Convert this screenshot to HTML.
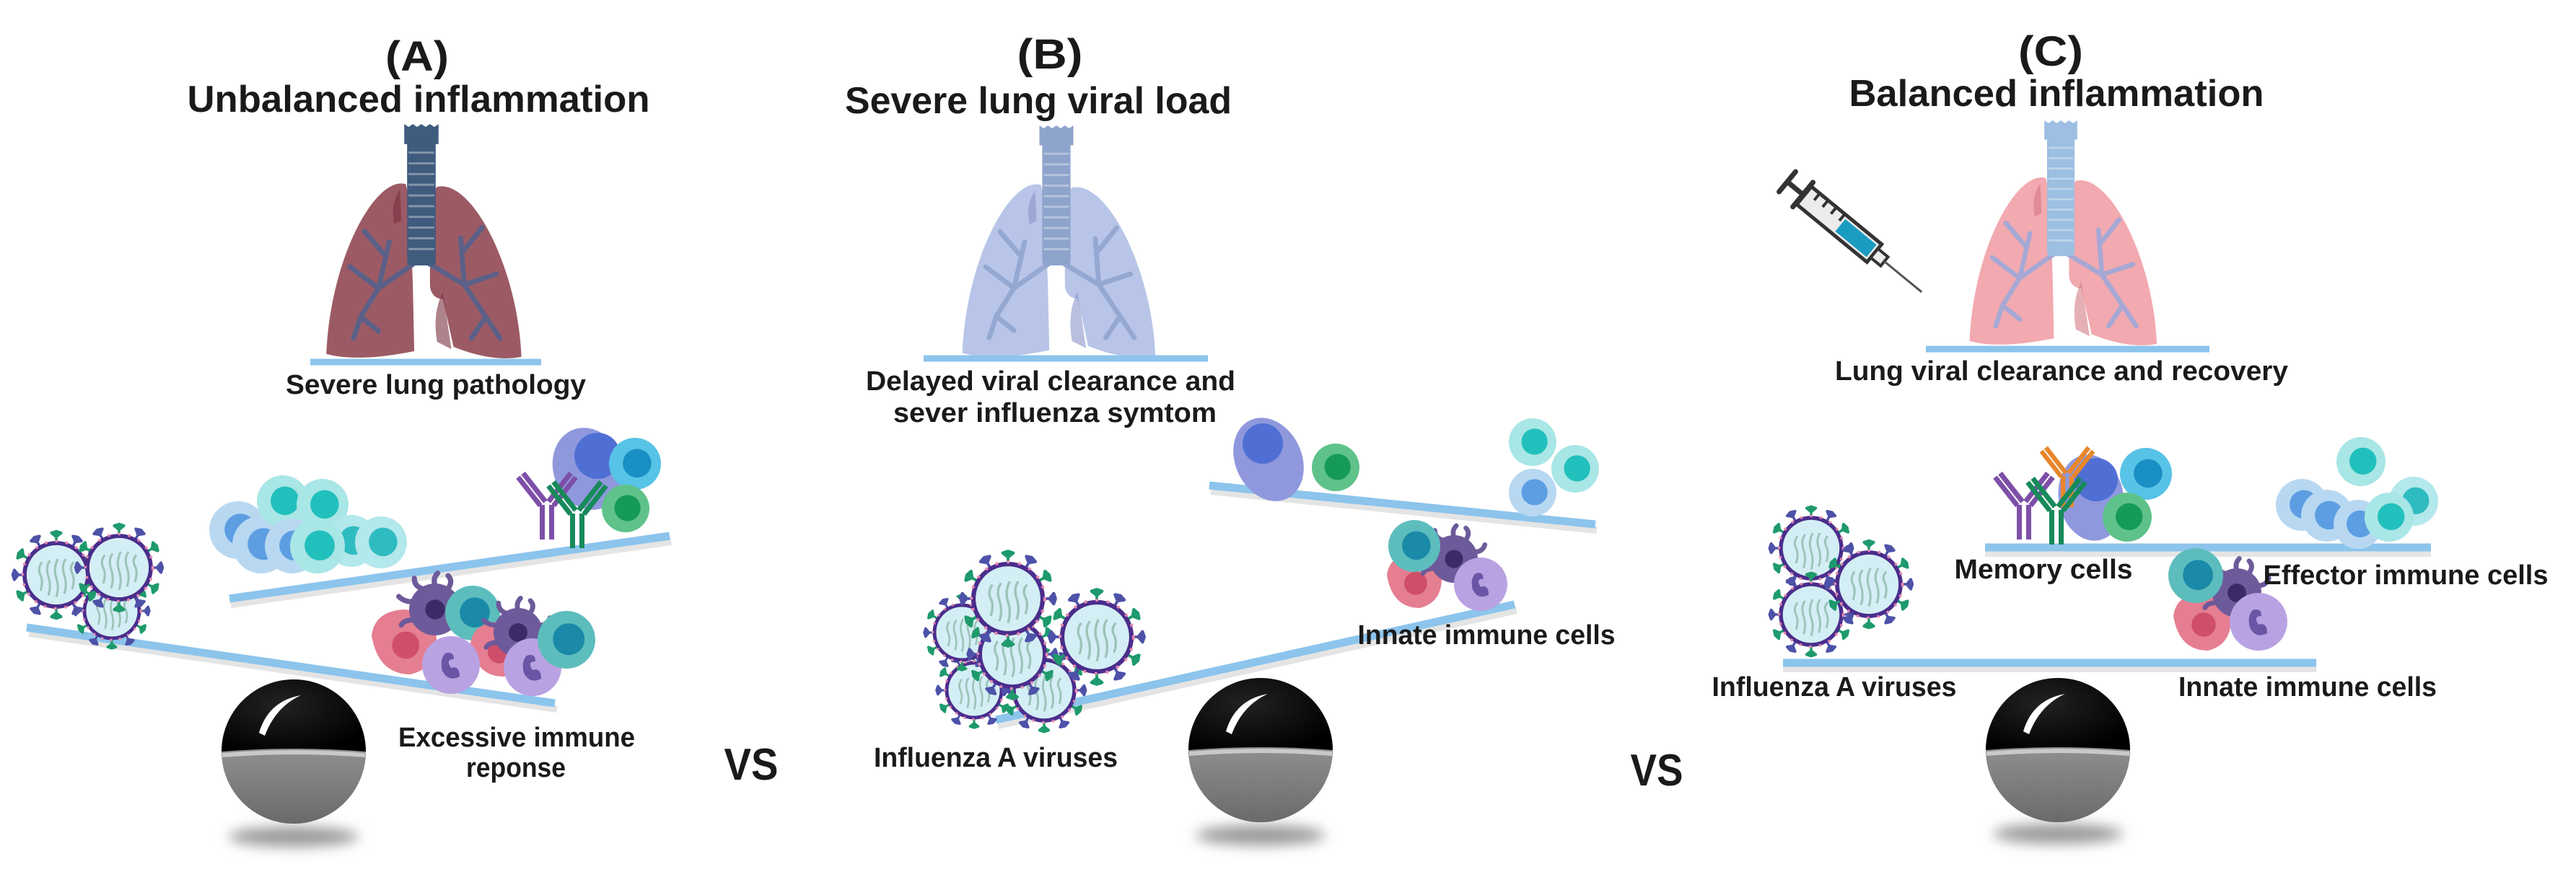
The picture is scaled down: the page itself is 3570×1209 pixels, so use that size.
<!DOCTYPE html>
<html><head><meta charset="utf-8"><style>
html,body{margin:0;padding:0;background:#fff}
svg{display:block}
text{font-family:"Liberation Sans",sans-serif;font-weight:bold;fill:#1a1a1a}
</style></head><body>
<svg width="3570" height="1209" viewBox="0 0 3570 1209" xmlns="http://www.w3.org/2000/svg">
<defs>
<filter id="bl" x="-50%" y="-200%" width="200%" height="500%"><feGaussianBlur stdDeviation="9"/></filter>
<linearGradient id="gb" x1="0" y1="0" x2="0" y2="1">
<stop offset="0" stop-color="#b5b5b5"/><stop offset="0.5" stop-color="#8e8e8e"/><stop offset="1" stop-color="#6a6a6a"/></linearGradient>
<radialGradient id="gt" cx="0.4" cy="0.35" r="0.7"><stop offset="0" stop-color="#222"/><stop offset="1" stop-color="#000"/></radialGradient>
<g id="ball">
<circle r="100" fill="url(#gb)"/>
<path d="M-100 0 A100 100 0 0 1 100 0 Q0 -8 -100 0Z" fill="url(#gt)"/>
<path d="M-99 2 Q0 -6 99 2 L99 8 Q0 0 -99 8Z" fill="#c9c9c9"/>
<path d="M-48 -26 Q-35 -70 10 -78 Q-25 -62 -40 -22Z" fill="#fff"/>
</g>
<g id="cell"><circle r="1" fill="var(--o)"/><circle cx="0.08" cy="-0.02" r="0.55" fill="var(--n)"/></g>
<g id="spk"><line x1="0" y1="-1" x2="0" y2="-1.22" stroke="var(--k)" stroke-width="0.08"/><path d="M0 -1.2 l-0.15 -0.12 l0.15 -0.05 l0.15 0.05z" fill="var(--k)" stroke="var(--k)" stroke-width="0.09" stroke-linejoin="round"/></g>
<g id="vir">
<g style="--k:#1e9a6c"><use href="#spk"/><use href="#spk" transform="rotate(60)"/><use href="#spk" transform="rotate(120)"/><use href="#spk" transform="rotate(180)"/><use href="#spk" transform="rotate(240)"/><use href="#spk" transform="rotate(300)"/></g>
<g style="--k:#4d52a8"><use href="#spk" transform="rotate(30)"/><use href="#spk" transform="rotate(90)"/><use href="#spk" transform="rotate(150)"/><use href="#spk" transform="rotate(210)"/><use href="#spk" transform="rotate(270)"/><use href="#spk" transform="rotate(330)"/></g>
<circle r="1" fill="#d4eef5" stroke="#4a2d8c" stroke-width="0.13"/>
<circle r="1.06" fill="none" stroke="#e68ab0" stroke-width="0.08" stroke-dasharray="0.08 0.25"/>
<g fill="none" stroke="#9cc4b8" stroke-width="0.07">
<path d="M-0.5 0.5 q0.1 -0.3 0 -0.5 t0.05 -0.4"/><path d="M-0.25 0.65 q0.1 -0.3 0 -0.6 t0.05 -0.5"/><path d="M0 0.7 q0.1 -0.3 0 -0.6 t0.05 -0.6"/><path d="M0.25 0.6 q0.1 -0.3 0 -0.6 t0.05 -0.5"/><path d="M0.5 0.45 q0.1 -0.3 0 -0.5 t0.05 -0.35"/></g>
</g>
<g id="dend">
<g stroke="var(--d)" stroke-width="0.2" stroke-linecap="round" fill="none">
<path d="M0 -0.9 q-0.1 -0.3 0.1 -0.5"/><path d="M0.5 -0.8 q0.2 -0.3 0 -0.5"/><path d="M-0.5 -0.8 q-0.3 -0.1 -0.3 -0.4"/><path d="M0.9 -0.3 q0.3 0 0.4 -0.3"/><path d="M-0.9 -0.3 q-0.3 0 -0.5 -0.2"/><path d="M-0.8 0.4 q-0.4 0 -0.5 0.2"/><path d="M0.8 0.4 q0.3 0.1 0.4 0.4"/></g>
<circle r="1" fill="var(--d)"/><circle r="0.38" fill="#3b2a66"/></g>
<g id="lilac"><circle r="1" fill="#b9a2e2"/><path d="M-0.2 -0.4 q0.3 -0.1 0.3 0.2 q-0.3 0 -0.1 0.3 q0.3 -0.1 0.3 0.3 q-0.4 0.2 -0.6 -0.2 q-0.1 -0.4 0.1 -0.6z" fill="#6a55a6"/></g>
<g id="pink"><path d="M-1 -0.2 Q-0.9 -0.95 0 -1 Q0.9 -0.9 1 -0.1 Q1 0.8 0.2 1 Q-0.8 1 -1 -0.2Z" fill="#e57e91"/><circle cx="0.05" cy="0.1" r="0.42" fill="#cf4f6a"/></g>
<g id="ab"><g fill="var(--a)">
<rect x="-10" y="0" width="7" height="48"/><rect x="3" y="0" width="7" height="48"/>
<g transform="rotate(-38 -4 2)"><rect x="-11" y="-52" width="7" height="50"/><rect x="-2" y="-52" width="7" height="50"/></g>
<g transform="rotate(38 4 2)"><rect x="-5" y="-52" width="7" height="50"/><rect x="4" y="-52" width="7" height="50"/></g></g></g>
<g id="lung">
<path d="M-22 84 C-65 72 -128 190 -133 322 Q-90 334 -10 318 L-12 225 C-14 170 -14 110 -22 84Z" fill="var(--l)"/>
<path d="M22 88 C70 76 135 200 140 326 Q100 334 45 312 L30 245 C18 245 12 235 12 225 L12 135 C12 112 14 95 22 88Z" fill="var(--l)"/>
<path d="M-30 92 q-14 20 -8 48 l10 -5z" fill="var(--r)" opacity="0.6"/>
<path d="M30 235 q-15 30 -8 70 l20 10z" fill="var(--r)" opacity="0.6"/>
<g stroke="var(--b)" stroke-width="7" fill="none" stroke-linecap="round">
<path d="M-10 195 L-60 230 L-85 270 M-60 230 L-100 200 M-60 230 L-45 165 M-50 185 L-80 150 M-85 270 L-95 300 M-85 270 L-60 290"/>
<path d="M10 195 L60 225 L90 270 M60 225 L105 210 M60 225 L55 160 M57 180 L85 145 M90 270 L110 300 M90 270 L70 300"/></g>
<rect x="-20" y="18" width="40" height="180" rx="6" fill="var(--t)"/>
<path d="M-24 0 l6 4 l6 -4 l6 4 l6 -4 l6 4 l6 -4 l6 4 l6 -4 l0 28 l-48 0z" fill="var(--t)"/>
<g stroke="#fff" stroke-opacity="0.35" stroke-width="3"><line x1="-18" y1="40" x2="18" y2="40"/><line x1="-18" y1="55" x2="18" y2="55"/><line x1="-18" y1="70" x2="18" y2="70"/><line x1="-18" y1="85" x2="18" y2="85"/><line x1="-18" y1="100" x2="18" y2="100"/><line x1="-18" y1="115" x2="18" y2="115"/><line x1="-18" y1="130" x2="18" y2="130"/><line x1="-18" y1="145" x2="18" y2="145"/><line x1="-18" y1="160" x2="18" y2="160"/><line x1="-18" y1="175" x2="18" y2="175"/></g>
</g>
</defs>

<!-- ============ PANEL A ============ -->
<text x="578" y="98" font-size="58" text-anchor="middle" textLength="88" lengthAdjust="spacingAndGlyphs">(A)</text>
<text x="580" y="155" font-size="52" text-anchor="middle" textLength="641" lengthAdjust="spacingAndGlyphs">Unbalanced inflammation</text>
<g transform="translate(584,172) scale(0.99)" style="--l:#9c5b64;--t:#3f5c7e;--b:#5b6088;--r:#7a3040"><use href="#lung"/></g>
<line x1="430" y1="502" x2="750" y2="502" stroke="#8cc4ec" stroke-width="9"/>
<text x="604" y="546" font-size="38" text-anchor="middle" textLength="416" lengthAdjust="spacingAndGlyphs">Severe lung pathology</text>

<line x1="40" y1="878" x2="772" y2="983" stroke="#e4e4e4" stroke-width="10"/>
<line x1="37" y1="870" x2="769" y2="975" stroke="#8cc4ec" stroke-width="11"/>
<line x1="320" y1="838" x2="930" y2="751" stroke="#e4e4e4" stroke-width="10"/>
<line x1="318" y1="830" x2="928" y2="743" stroke="#8cc4ec" stroke-width="11"/>

<use href="#vir" transform="translate(155,847) scale(38)"/>
<use href="#vir" transform="translate(78,797) scale(44)"/>
<use href="#vir" transform="translate(165,787) scale(44)"/>

<g>
<use href="#cell" transform="translate(330,735) scale(40)" style="--o:#b8d8f2;--n:#5d9ee2"/>
<use href="#cell" transform="translate(362,755) scale(40)" style="--o:#b8d8f2;--n:#5d9ee2"/>
<use href="#cell" transform="translate(392,695) scale(36)" style="--o:#a9e6e6;--n:#22c0bd"/>
<use href="#cell" transform="translate(447,700) scale(36)" style="--o:#a9e6e6;--n:#22c0bd"/>
<use href="#cell" transform="translate(405,757) scale(38)" style="--o:#b8d8f2;--n:#5d9ee2"/>
<use href="#cell" transform="translate(487,750) scale(36)" style="--o:#b3e8ec;--n:#2fbcc0"/>
<use href="#cell" transform="translate(528,752) scale(36)" style="--o:#b3e8ec;--n:#2fbcc0"/>
<use href="#cell" transform="translate(440,757) scale(38)" style="--o:#a9e6e6;--n:#22c0bd"/>
</g>
<ellipse cx="815" cy="650" rx="48" ry="58" fill="#8f98dd" transform="rotate(-20 815 650)"/>
<circle cx="828" cy="632" r="32" fill="#4f6fd4"/>
<use href="#cell" transform="translate(880,643) scale(36)" style="--o:#57c3e6;--n:#1a8fc4"/>
<use href="#cell" transform="translate(867,705) scale(33)" style="--o:#5fc28a;--n:#169a5a"/>
<use href="#ab" transform="translate(758,700)" style="--a:#7d4fa8"/>
<use href="#ab" transform="translate(800,712)" style="--a:#178a5a"/>

<use href="#pink" transform="translate(560,890) scale(45)"/>
<use href="#dend" transform="translate(603,845) scale(36)" style="--d:#6d5a9a"/>
<use href="#cell" transform="translate(655,850) scale(38)" style="--o:#5dbdbd;--n:#1a8aa8"/>
<use href="#pink" transform="translate(690,900) scale(38)"/>
<use href="#dend" transform="translate(718,877) scale(34)" style="--d:#6d5a9a"/>
<use href="#lilac" transform="translate(625,922) scale(40)"/>
<use href="#lilac" transform="translate(738,925) scale(40)"/>
<use href="#cell" transform="translate(785,887) scale(40)" style="--o:#5dbdbd;--n:#1a8aa8"/>

<ellipse cx="407" cy="1160" rx="90" ry="14" fill="#999" filter="url(#bl)"/>
<use href="#ball" transform="translate(407,1042)"/>
<text x="716" y="1035" font-size="38" text-anchor="middle" textLength="328" lengthAdjust="spacingAndGlyphs">Excessive  immune</text>
<text x="715" y="1077" font-size="38" text-anchor="middle" textLength="138" lengthAdjust="spacingAndGlyphs">reponse</text>
<text x="1041" y="1081" font-size="62" text-anchor="middle" textLength="75" lengthAdjust="spacingAndGlyphs">VS</text>

<!-- ============ PANEL B ============ -->
<text x="1455" y="95" font-size="58" text-anchor="middle" textLength="91" lengthAdjust="spacingAndGlyphs">(B)</text>
<text x="1439" y="157" font-size="52" text-anchor="middle" textLength="536" lengthAdjust="spacingAndGlyphs">Severe lung viral load</text>
<g transform="translate(1464,174) scale(0.98)" style="--l:#b8c5e8;--t:#8ea4cc;--b:#94a8d2;--r:#8a95c8"><use href="#lung"/></g>
<line x1="1280" y1="497" x2="1674" y2="497" stroke="#8cc4ec" stroke-width="9"/>
<text x="1456" y="541" font-size="38" text-anchor="middle" textLength="512" lengthAdjust="spacingAndGlyphs">Delayed viral clearance and</text>
<text x="1462" y="585" font-size="38" text-anchor="middle" textLength="448" lengthAdjust="spacingAndGlyphs">sever influenza symtom</text>

<line x1="1678" y1="681" x2="2213" y2="735" stroke="#e4e4e4" stroke-width="10"/>
<line x1="1676" y1="673" x2="2211" y2="727" stroke="#8cc4ec" stroke-width="11"/>
<line x1="1383" y1="1006" x2="2102" y2="846" stroke="#e4e4e4" stroke-width="10"/>
<line x1="1380" y1="998" x2="2099" y2="838" stroke="#8cc4ec" stroke-width="11"/>

<ellipse cx="1758" cy="637" rx="46" ry="60" fill="#8f98dd" transform="rotate(-25 1758 637)"/>
<circle cx="1750" cy="615" r="28" fill="#4f6fd4"/>
<use href="#cell" transform="translate(1851,648) scale(33)" style="--o:#5fc28a;--n:#169a5a"/>
<use href="#cell" transform="translate(2124,613) scale(33)" style="--o:#a9e6e6;--n:#22c0bd"/>
<use href="#cell" transform="translate(2183,650) scale(33)" style="--o:#a9e6e6;--n:#22c0bd"/>
<use href="#cell" transform="translate(2124,683) scale(33)" style="--o:#b8d8f2;--n:#5d9ee2"/>

<use href="#pink" transform="translate(1960,805) scale(38)"/>
<use href="#dend" transform="translate(2015,775) scale(33)" style="--d:#6d5a9a"/>
<use href="#cell" transform="translate(1960,757) scale(36)" style="--o:#5dbdbd;--n:#1a8aa8"/>
<use href="#lilac" transform="translate(2052,810) scale(37)"/>

<use href="#vir" transform="translate(1350,957) scale(38)"/>
<use href="#vir" transform="translate(1447,957) scale(42)"/>
<use href="#vir" transform="translate(1333,877) scale(38)"/>
<use href="#vir" transform="translate(1403,907) scale(45)"/>
<use href="#vir" transform="translate(1397,830) scale(48)"/>
<use href="#vir" transform="translate(1520,883) scale(48)"/>

<ellipse cx="1747" cy="1158" rx="90" ry="14" fill="#999" filter="url(#bl)"/>
<use href="#ball" transform="translate(1747,1040)"/>
<text x="2060" y="893" font-size="38" text-anchor="middle" textLength="357" lengthAdjust="spacingAndGlyphs">Innate immune cells</text>
<text x="1380" y="1063" font-size="38" text-anchor="middle" textLength="338" lengthAdjust="spacingAndGlyphs">Influenza A viruses</text>
<text x="2296" y="1089" font-size="62" text-anchor="middle" textLength="73" lengthAdjust="spacingAndGlyphs">VS</text>

<!-- ============ PANEL C ============ -->
<text x="2842" y="91" font-size="58" text-anchor="middle" textLength="90" lengthAdjust="spacingAndGlyphs">(C)</text>
<text x="2850" y="147" font-size="52" text-anchor="middle" textLength="575" lengthAdjust="spacingAndGlyphs">Balanced inflammation</text>
<g transform="translate(2477,252) rotate(39.4)">
<line x1="0" y1="-18" x2="0" y2="18" stroke="#333" stroke-width="7" stroke-linecap="round"/>
<line x1="0" y1="0" x2="28" y2="0" stroke="#333" stroke-width="7"/>
<line x1="28" y1="-22" x2="28" y2="22" stroke="#333" stroke-width="7" stroke-linecap="round"/>
<rect x="30" y="-16" width="126" height="32" fill="#ececec" stroke="#333" stroke-width="5"/>
<rect x="95" y="-11" width="56" height="22" fill="#1a9cc0"/>
<g stroke="#333" stroke-width="4"><line x1="45" y1="-16" x2="45" y2="-4"/><line x1="60" y1="-16" x2="60" y2="-4"/><line x1="75" y1="-16" x2="75" y2="-4"/><line x1="90" y1="-16" x2="90" y2="-4"/></g>
<rect x="156" y="-8" width="18" height="16" fill="#ececec" stroke="#333" stroke-width="4"/>
<line x1="174" y1="0" x2="241" y2="0" stroke="#555" stroke-width="3"/>
</g>
<g transform="translate(2856,167) scale(0.95)" style="--l:#f2a9b0;--t:#9cbfe2;--b:#a6a8d4;--r:#d47a86"><use href="#lung"/></g>
<line x1="2669" y1="484" x2="3062" y2="484" stroke="#8cc4ec" stroke-width="9"/>
<text x="2857" y="527" font-size="38" text-anchor="middle" textLength="628" lengthAdjust="spacingAndGlyphs">Lung viral clearance and recovery</text>

<line x1="2751" y1="767" x2="3369" y2="767" stroke="#e4e4e4" stroke-width="10"/>
<line x1="2751" y1="759" x2="3369" y2="759" stroke="#8cc4ec" stroke-width="11"/>
<line x1="2471" y1="927" x2="3210" y2="927" stroke="#e4e4e4" stroke-width="10"/>
<line x1="2471" y1="919" x2="3210" y2="919" stroke="#8cc4ec" stroke-width="11"/>

<ellipse cx="2898" cy="690" rx="45" ry="60" fill="#8f98dd" transform="rotate(-10 2898 690)"/>
<circle cx="2905" cy="665" r="30" fill="#4f6fd4"/>
<use href="#cell" transform="translate(2974,657) scale(36)" style="--o:#57c3e6;--n:#1a8fc4"/>
<use href="#cell" transform="translate(2948,717) scale(34)" style="--o:#5fc28a;--n:#169a5a"/>
<use href="#ab" transform="translate(2805,700)" style="--a:#7d4fa8"/>
<use href="#ab" transform="translate(2865,660) scale(0.9)" style="--a:#e8862a"/>
<use href="#ab" transform="translate(2850,707)" style="--a:#178a5a"/>

<use href="#cell" transform="translate(3190,700) scale(36)" style="--o:#b8d8f2;--n:#5d9ee2"/>
<use href="#cell" transform="translate(3225,715) scale(36)" style="--o:#b8d8f2;--n:#5d9ee2"/>
<use href="#cell" transform="translate(3272,640) scale(34)" style="--o:#a9e6e6;--n:#22c0bd"/>
<use href="#cell" transform="translate(3268,727) scale(34)" style="--o:#b8d8f2;--n:#5d9ee2"/>
<use href="#cell" transform="translate(3345,695) scale(34)" style="--o:#b3e8ec;--n:#2fbcc0"/>
<use href="#cell" transform="translate(3311,717) scale(34)" style="--o:#a9e6e6;--n:#22c0bd"/>

<use href="#pink" transform="translate(3052,862) scale(40)"/>
<use href="#dend" transform="translate(3100,822) scale(34)" style="--d:#6d5a9a"/>
<use href="#cell" transform="translate(3043,798) scale(38)" style="--o:#5dbdbd;--n:#1a8aa8"/>
<use href="#lilac" transform="translate(3130,862) scale(40)"/>

<use href="#vir" transform="translate(2510,760) scale(42)"/>
<use href="#vir" transform="translate(2510,852) scale(42)"/>
<use href="#vir" transform="translate(2590,810) scale(44)"/>

<ellipse cx="2852" cy="1156" rx="90" ry="14" fill="#999" filter="url(#bl)"/>
<use href="#ball" transform="translate(2852,1040)"/>
<text x="2832" y="802" font-size="38" text-anchor="middle" textLength="247" lengthAdjust="spacingAndGlyphs">Memory  cells</text>
<text x="3334" y="810" font-size="38" text-anchor="middle" textLength="395" lengthAdjust="spacingAndGlyphs">Effector  immune cells</text>
<text x="2542" y="965" font-size="38" text-anchor="middle" textLength="339" lengthAdjust="spacingAndGlyphs">Influenza A viruses</text>
<text x="3198" y="965" font-size="38" text-anchor="middle" textLength="358" lengthAdjust="spacingAndGlyphs">Innate immune cells</text>
</svg>
</body></html>
